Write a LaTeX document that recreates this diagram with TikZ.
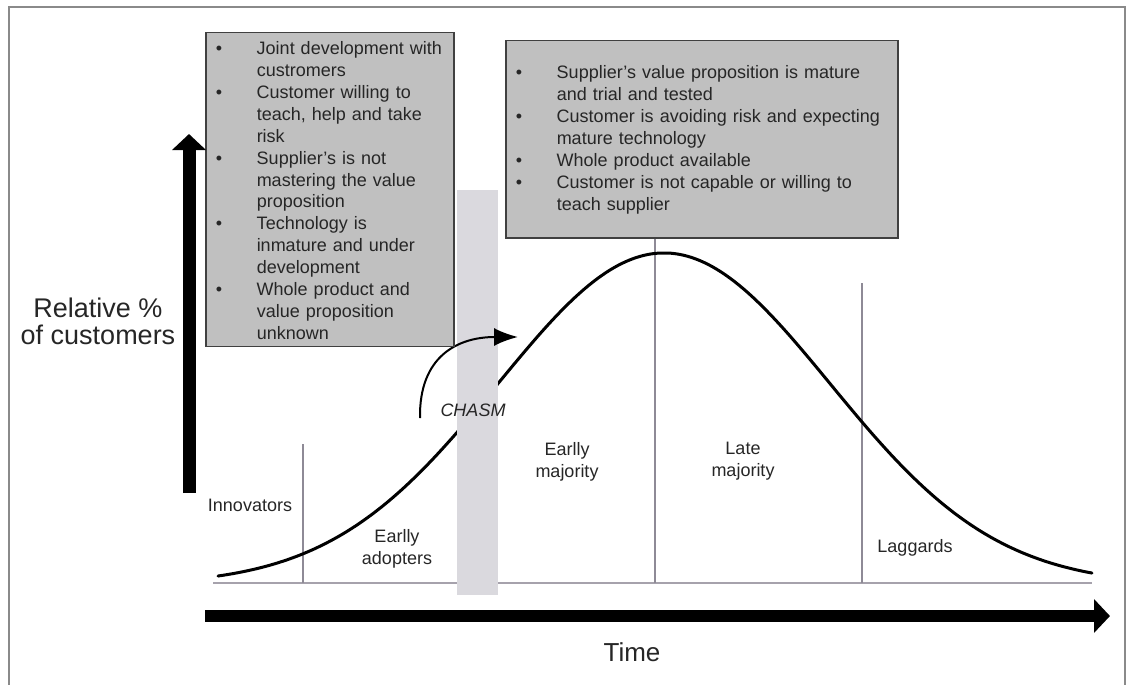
\documentclass[tikz,border=0pt]{standalone}
\usepackage{fontspec}
\setmainfont{Liberation Sans}
\usetikzlibrary{arrows.meta}
\definecolor{boxfill}{HTML}{C0C0C0}
\definecolor{boxline}{HTML}{404040}
\definecolor{txt}{HTML}{262626}
\definecolor{divline}{HTML}{8E8A96}
\definecolor{baseln}{HTML}{A6A2AC}
\definecolor{chasmfill}{HTML}{DAD9DE}
\definecolor{framecol}{HTML}{8A8A8A}
\newcommand\bitem[1]{\par\noindent\hangindent=47pt\hangafter=1\makebox[47pt][l]{\hspace{6pt}\textbullet}#1\par}
\begin{document}
\begin{tikzpicture}[x=1pt,y=-1pt,
  infobox/.style={draw=boxline, line width=1.5pt, fill=boxfill, anchor=north west,
    inner xsep=4pt, inner ysep=0pt, text=txt, font=\fontsize{18}{21.9}\selectfont},
  lbl/.style={font=\fontsize{18}{22}\selectfont, text=txt, align=center, inner sep=0pt},
  bigl/.style={font=\fontsize{27}{27}\selectfont, text=txt, align=center, inner sep=0pt},
  divider/.style={draw=divline, line width=1.6pt},
  curve/.style={draw=black, line width=3pt, line cap=round},
  axisarrow/.style={line width=13pt, -{Triangle[width=33pt,length=16pt]}}
]
\useasboundingbox (0,0) rectangle (1128,685);
% frame
\draw[framecol, line width=2pt] (9,685) -- (9,7) -- (1125,7) -- (1125,685);

% baseline
\coordinate (bl0) at (213,583);
\coordinate (bl1) at (1092,583);
\draw[draw=baseln, line width=2.5pt] (bl0) -- (bl1);

% dividers
\coordinate (d1t) at (303,444); \coordinate (d1b) at (303,583);
\coordinate (d2t) at (655,237); \coordinate (d2b) at (655,583);
\coordinate (d3t) at (862,283); \coordinate (d3b) at (862,583);
\draw[divider] (d1t) -- (d1b);
\draw[divider] (d2t) -- (d2b);
\draw[divider] (d3t) -- (d3b);

% bell curve
\draw[curve] plot[domain=218:470, samples=80, smooth] (\x, {585-332*exp(-0.5*((\x-664)/166)^2)});
\draw[curve] plot[domain=490:1092, samples=150, smooth] (\x, {585-332*exp(-0.5*((\x-664)/166)^2)});

% chasm bar
\fill[chasmfill] (457,190) rectangle (498,595);

% chasm arrow
\coordinate (ca0) at (420,418);
\coordinate (ca1) at (518,337);
\draw[line width=2pt, -{Latex[length=24pt,width=18pt]}] (ca0) .. controls (419,356) and (458,337) .. (ca1);
\node[lbl, font=\fontsize{18}{22}\selectfont\itshape] (chasm) at (473,410) {CHASM};

% boxes
\node[infobox, minimum width=248pt, minimum height=312pt, text width=240pt] (lbox) at (205,32) {%
\bitem{Joint development with\newline custromers}%
\bitem{Customer willing to\newline teach, help and take\newline risk}%
\bitem{Supplier's is not\newline mastering the value\newline proposition}%
\bitem{Technology is\newline inmature and under\newline development}%
\bitem{Whole product and\newline value proposition\newline unknown}%
\vspace*{7pt}};

\node[infobox, minimum width=392pt, minimum height=197pt, text width=384pt] (rbox) at (505,40) {%
\bitem{Supplier's value proposition is mature\newline and trial and tested}%
\bitem{Customer is avoiding risk and expecting\newline mature technology}%
\bitem{Whole product available}%
\bitem{Customer is not capable or willing to\newline teach supplier}%
\vspace*{8pt}};

% stage labels
\node[lbl] (innov) at (250,505) {Innovators};
\node[lbl] (eadopt) at (397,549) {Earlly\\adopters};
\node[lbl] (emaj) at (567,461.5) {Earlly\\majority};
\node[lbl] (lmaj) at (743,461) {Late\\majority};
\node[lbl] (lagg) at (915,548) {Laggards};

% axes
\coordinate (ya0) at (189,493);
\coordinate (ya1) at (189,134);
\draw[axisarrow] (ya0) -- (ya1);
\coordinate (xa0) at (205,616);
\coordinate (xa1) at (1110,616);
\draw[axisarrow, line width=12pt] (xa0) -- (xa1);

\node[bigl] (ylab) at (98,321.5) {Relative \%\\of customers};
\node[bigl, font=\fontsize{26}{26}\selectfont] (xlab) at (632,652) {Time};
\end{tikzpicture}
\end{document}
